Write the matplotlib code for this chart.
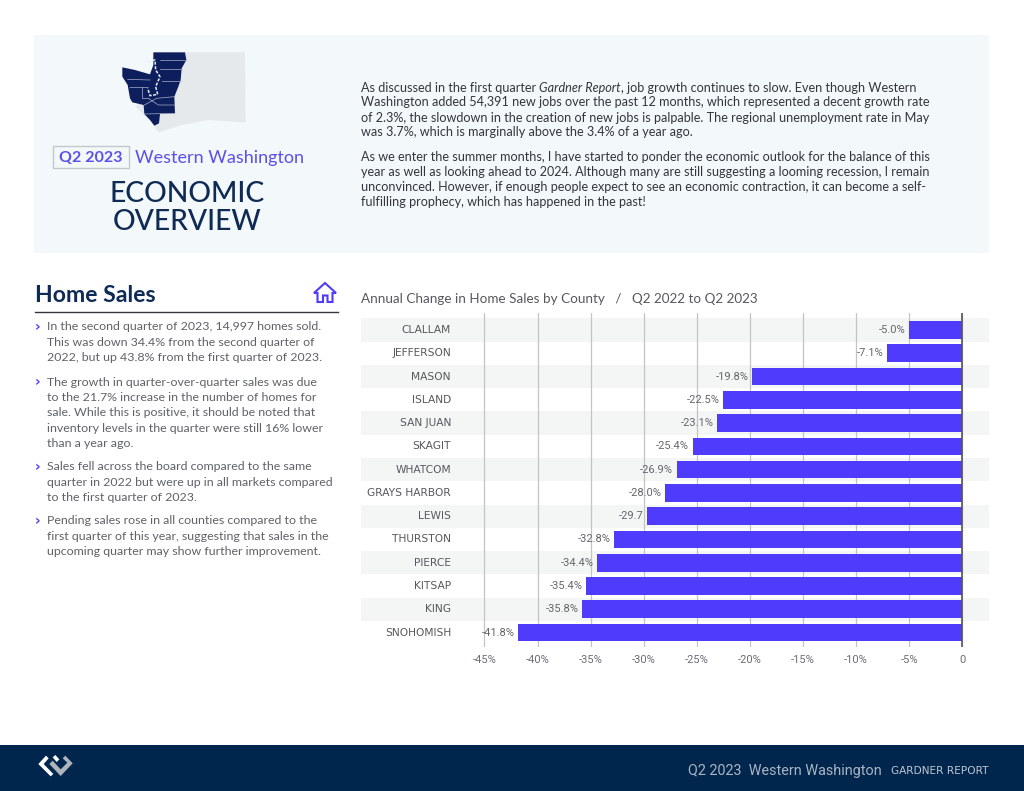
import matplotlib
matplotlib.use('Agg')
import matplotlib.pyplot as plt
from matplotlib.patches import Rectangle, Polygon

# datos del grafico
counties = ['CLALLAM', 'JEFFERSON', 'MASON', 'ISLAND', 'SAN JUAN', 'SKAGIT', 'WHATCOM',
            'GRAYS HARBOR', 'LEWIS', 'THURSTON', 'PIERCE', 'KITSAP', 'KING', 'SNOHOMISH']
change = [-5.0, -7.1, -19.8, -22.5, -23.1, -25.4, -26.9, -28.0, -29.7, -32.8, -34.4, -35.4, -35.8, -41.8]
change_labels = ['-5.0%', '-7.1%', '-19.8%', '-22.5%', '-23.1%', '-25.4%', '-26.9%',
                 '-28.0%', '-29.7', '-32.8%', '-34.4%', '-35.4%', '-35.8%', '-41.8%']
tick_values = [-45, -40, -35, -30, -25, -20, -15, -10, -5, 0]
tick_labels = ['-45%', '-40%', '-35%', '-30%', '-25%', '-20%', '-15%', '-10%', '-5%', '0']

intro_lines = [
    [('As discussed in the first quarter ', 'normal'), ('Gardner Report', 'italic'), (', job growth continues to slow. Even though Western', 'normal')],
    [('Washington added 54,391 new jobs over the past 12 months, which represented a decent growth rate', 'normal')],
    [('of 2.3%, the slowdown in the creation of new jobs is palpable. The regional unemployment rate in May', 'normal')],
    [('was 3.7%, which is marginally above the 3.4% of a year ago.', 'normal')],
    [('As we enter the summer months, I have started to ponder the economic outlook for the balance of this', 'normal')],
    [('year as well as looking ahead to 2024. Although many are still suggesting a looming recession, I remain', 'normal')],
    [('unconvinced. However, if enough people expect to see an economic contraction, it can become a self-', 'normal')],
    [('fulfilling prophecy, which has happened in the past!', 'normal')],
]
intro_y = [88, 102.5, 117.5, 132.5, 157, 172, 187, 202]

bullets = [
    ['In the second quarter of 2023, 14,997 homes sold.',
     'This was down 34.4% from the second quarter of',
     '2022, but up 43.8% from the first quarter of 2023.'],
    ['The growth in quarter-over-quarter sales was due',
     'to the 21.7% increase in the number of homes for',
     'sale. While this is positive, it should be noted that',
     'inventory levels in the quarter were still 16% lower',
     'than a year ago.'],
    ['Sales fell across the board compared to the same',
     'quarter in 2022 but were up in all markets compared',
     'to the first quarter of 2023.'],
    ['Pending sales rose in all counties compared to the',
     'first quarter of this year, suggesting that sales in the',
     'upcoming quarter may show further improvement.'],
]
bullet_y = [327, 382, 467, 521]

navy = '#0f2a55'
purple = '#5b50e8'
bar_color = '#4f3bfb'
body_font = 'Lato'
narrow_font = ['Liberation Sans Narrow', 'Roboto', 'DejaVu Sans']

W, H = 1024, 791
fig = plt.figure(figsize=(W / 100, H / 100), dpi=100, facecolor='white')

# capa de pagina en pixeles
page = fig.add_axes([0, 0, 1, 1])
page.set_xlim(0, W)
page.set_ylim(H, 0)
page.axis('off')

page.add_patch(Rectangle((34, 35), 955, 218, color='#f3f8fa', lw=0))
page.add_patch(Rectangle((0, 745), W, 46, color='#00264e', lw=0))

# mapa de Washington simplificado
def map_xy(pts):
    return [(115 + x / 3, 45 + y / 3) for x, y in pts]

grey_map = map_xy([(210, 22), (390, 22), (392, 232), (280, 225), (200, 240), (130, 262),
                   (105, 225), (60, 185), (150, 120)])
dark_map = map_xy([(115, 22), (210, 22), (214, 45), (200, 70), (197, 105), (190, 125), (178, 155),
                   (180, 205), (135, 207), (132, 235), (118, 242), (105, 225), (88, 207), (86, 180),
                   (52, 172), (45, 160), (38, 120), (22, 95), (22, 67), (60, 75), (105, 88), (115, 60)])
page.add_patch(Polygon(grey_map, color='#e5e9eb', lw=0))
page.add_patch(Polygon(dark_map, color='#0c1f5c', lw=0))
for seg in [[(135, 45), (212, 45)], [(135, 72), (200, 72)], [(140, 108), (197, 108)],
            [(38, 103), (105, 105)], [(45, 128), (100, 127)], [(80, 127), (80, 160), (100, 160)],
            [(88, 180), (125, 160), (178, 155)], [(100, 160), (130, 180), (178, 180)], [(88, 207), (180, 205)]]:
    xs, ys = zip(*map_xy(seg))
    page.plot(xs, ys, color='#a9aec8', lw=0.5)
sound = map_xy([(98, 50), (120, 45), (122, 75), (135, 95), (122, 125), (128, 148), (105, 152), (98, 130)])
xs, ys = zip(*sound)
page.plot(xs, ys, color='#e9ecf6', lw=1.1, ls=(0, (2, 1)))

# titulo del recuadro
page.add_patch(Rectangle((53, 146), 76, 22, fc='none', ec='#c4c8cc', lw=1))
page.text(91, 158, 'Q2 2023', color=purple, fontsize=11.5, fontweight='bold', family=body_font, ha='center', va='center')
page.text(135, 158.5, 'Western Washington', color=purple, fontsize=13, family=body_font, ha='left', va='center')
page.text(187, 193.5, 'ECONOMIC', color=navy, fontsize=20.3, fontweight='medium', family=body_font, ha='center', va='center')
page.text(187, 222.5, 'OVERVIEW', color=navy, fontsize=20.3, fontweight='medium', family=body_font, ha='center', va='center')

# texto de introduccion, linea por linea
fig.canvas.draw()
renderer = fig.canvas.get_renderer()
for parts, y in zip(intro_lines, intro_y):
    x = 361
    for txt, style in parts:
        t = page.text(x, y, txt, fontsize=9.1, family=body_font, style=style, color='#34363b', va='center', ha='left')
        x += t.get_window_extent(renderer).width

# columna izquierda
page.text(35, 295.5, 'Home Sales', color=navy, fontsize=16.6, fontweight='bold', family=body_font, va='center')
page.plot([35, 338], [311.5, 311.5], color='#33363c', lw=1)
house = [(314, 293), (325, 283), (336, 293), (332.5, 293), (332.5, 302), (327.5, 302), (327.5, 295.5),
         (323, 295.5), (323, 302), (317.5, 302), (317.5, 293)]
page.add_patch(Polygon(house, fc='none', ec=bar_color, lw=1.5))

for lines, y0 in zip(bullets, bullet_y):
    page.text(37.5, y0, '\u203a', color=bar_color, fontsize=10, fontweight='bold', family='DejaVu Sans', va='center', ha='center')
    for i, line in enumerate(lines):
        page.text(47, y0 + i * 15.4, line, color='#5e6268', fontsize=8.92, family=body_font, va='center', ha='left')

# pie de pagina
def logo_xy(pts):
    return [(30 + x / 3, 750 + y / 3) for x, y in pts]

page.add_patch(Polygon(logo_xy([(25, 42), (48, 17), (56, 25), (41, 42), (70, 72), (62, 79)]), color='white', lw=0))
page.add_patch(Polygon(logo_xy([(68, 22), (76, 15), (88, 28), (80, 36)]), color='white', lw=0))
page.add_patch(Polygon(logo_xy([(58, 42), (68, 32), (92, 58), (112, 38), (98, 25), (106, 17), (128, 40), (92, 78)]),
                       color='#aeb4bd', lw=0))
page.text(688, 771, 'Q2 2023  Western Washington', color='#aab4c2', fontsize=10.4, family=narrow_font[1], va='center', ha='left')
page.text(891, 771.5, 'GARDNER REPORT', color='#c0c6d0', fontsize=7.6, family='DejaVu Sans', va='center', ha='left')

# grafico de barras
px_unit = 10.62
zero_px = 962.3
row_px = 23.27
ax_left, ax_right, ax_top, ax_bottom = 361, 989, 313, 647
ax = fig.add_axes([ax_left / W, 1 - ax_bottom / H, (ax_right - ax_left) / W, (ax_bottom - ax_top) / H])
ax.patch.set_alpha(0)
ax.set_xlim((ax_left - zero_px) / px_unit, (ax_right - zero_px) / px_unit)
ax.set_ylim(13 + (ax_bottom - 632.5) / row_px, -(330 - ax_top) / row_px)

rows = list(range(len(counties)))
for i in rows[::2]:
    ax.axhspan(i - 0.5, i + 0.5, color='#f4f5f5', lw=0, zorder=0)
ax.set_xticks(tick_values, tick_labels, family=narrow_font, fontsize=8, color='#6a6d72')
ax.set_yticks([])
ax.tick_params(axis='x', length=0, pad=6)
ax.grid(axis='x', color='#c3c5c4', lw=0.9)
ax.set_axisbelow(True)
ax.axvline(0, color='#55585c', lw=1.2, zorder=3)
for s in ax.spines.values():
    s.set_visible(False)

bars = ax.barh(rows, change, height=0.76, color=bar_color, zorder=2)
ax.bar_label(bars, labels=change_labels, padding=2.5, family=narrow_font, fontsize=8, color='#63666b')

label_x = (451 - zero_px) / px_unit
for i, name in zip(rows, counties):
    ax.text(label_x, i, name, ha='right', va='center', family='DejaVu Sans', fontsize=7.7, color='#55585d')

ax.set_title('Annual Change in Home Sales by County   /   Q2 2022 to Q2 2023', loc='left',
             fontsize=9.73, family=body_font, color='#55585c', pad=7.5)

fig.savefig('out.png', dpi=100)
